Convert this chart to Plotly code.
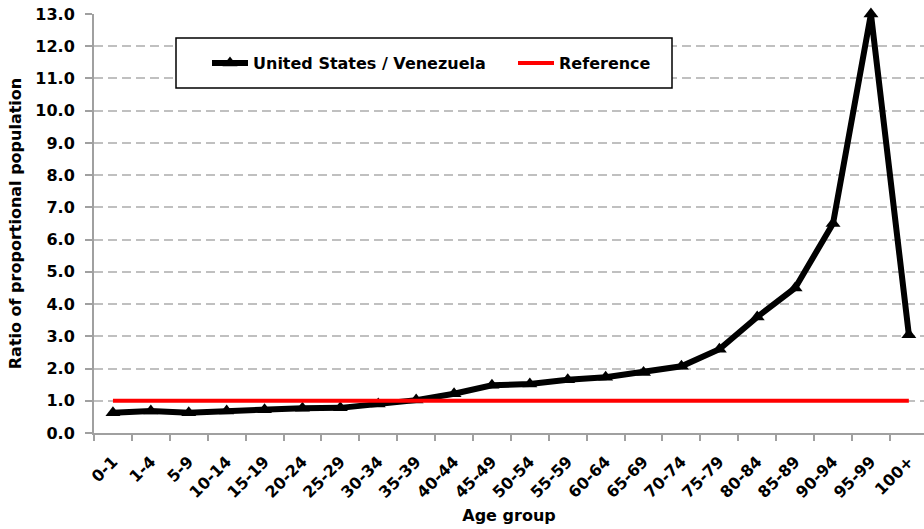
import plotly.graph_objects as go

age_groups = ["0-1", "1-4", "5-9", "10-14", "15-19", "20-24", "25-29", "30-34", "35-39",
              "40-44", "45-49", "50-54", "55-59", "60-64", "65-69", "70-74", "75-79",
              "80-84", "85-89", "90-94", "95-99", "100+"]
ratio_us_ven = [0.63, 0.68, 0.63, 0.68, 0.72, 0.77, 0.78, 0.9, 1.02, 1.22, 1.48, 1.52,
                1.65, 1.73, 1.88, 2.07, 2.6, 3.6, 4.5, 6.5, 13.0, 3.05]
reference = [1.0] * len(age_groups)

FONT = "DejaVu Sans, sans-serif"
L, R, T, B = 94, 0, 14, 96
W, H = 924, 529
PW, PH = W - L - R, H - T - B

def px_x(x):
    return (x - L) / PW

def px_y(y):
    return (H - B - y) / PH

fig = go.Figure()
fig.add_trace(go.Scatter(
    x=age_groups, y=ratio_us_ven, name="<b>United States / Venezuela</b>",
    mode="lines+markers",
    line=dict(color="black", width=6),
    marker=dict(symbol="triangle-up", size=13, color="black"),
    cliponaxis=False,
))
fig.add_trace(go.Scatter(
    x=age_groups, y=reference, name="<b>Reference</b>",
    mode="lines",
    line=dict(color="#ff0000", width=4),
))

# legend frame
fig.add_shape(type="rect", xref="paper", yref="paper",
              x0=px_x(176), x1=px_x(672), y0=px_y(88), y1=px_y(38),
              line=dict(color="black", width=1.5), fillcolor="white", layer="above")

fig.update_layout(
    width=W, height=H,
    margin=dict(l=L, r=R, t=T, b=B, autoexpand=False),
    plot_bgcolor="white", paper_bgcolor="white",
    font=dict(family=FONT, color="black", size=16),
    showlegend=True,
    legend=dict(
        orientation="h", x=px_x(207), y=px_y(63), xanchor="left", yanchor="middle",
        bgcolor="rgba(0,0,0,0)", borderwidth=0,
        font=dict(family=FONT, size=16, color="black"),
        itemwidth=36, entrywidth=255,
    ),
    xaxis=dict(
        type="category", automargin=False,
        range=[-0.5, 21.4],
        showline=True, linecolor="#a0a0a0", linewidth=2,
        ticks="outside", tickson="boundaries", ticklen=6, tickcolor="#a0a0a0", tickwidth=2,
        tickangle=-45, ticklabelstandoff=11,
        tickfont=dict(family=FONT, size=16, color="black", weight="bold"),
        showgrid=False,
        title=dict(text="<b>Age group</b>", font=dict(family=FONT, size=16), standoff=9),
    ),
    yaxis=dict(
        range=[0, 13], dtick=1, tickformat=".1f", automargin=False,
        showline=True, linecolor="#a0a0a0", linewidth=2,
        ticks="outside", ticklen=7, tickcolor="#a0a0a0", tickwidth=2,
        ticklabelstandoff=7, ticklabeloverflow="allow",
        tickfont=dict(family=FONT, size=16, color="black", weight="bold"),
        showgrid=True, gridcolor="#c0c0c0", griddash="9px,5px", gridwidth=1.5,
        zeroline=False,
        title=dict(text="<b>Ratio of proportional population</b>", font=dict(family=FONT, size=16), standoff=10),
    ),
)

fig.write_html("out.html", config={"displayModeBar": False},
               post_script="document.body.style.margin='0';")
